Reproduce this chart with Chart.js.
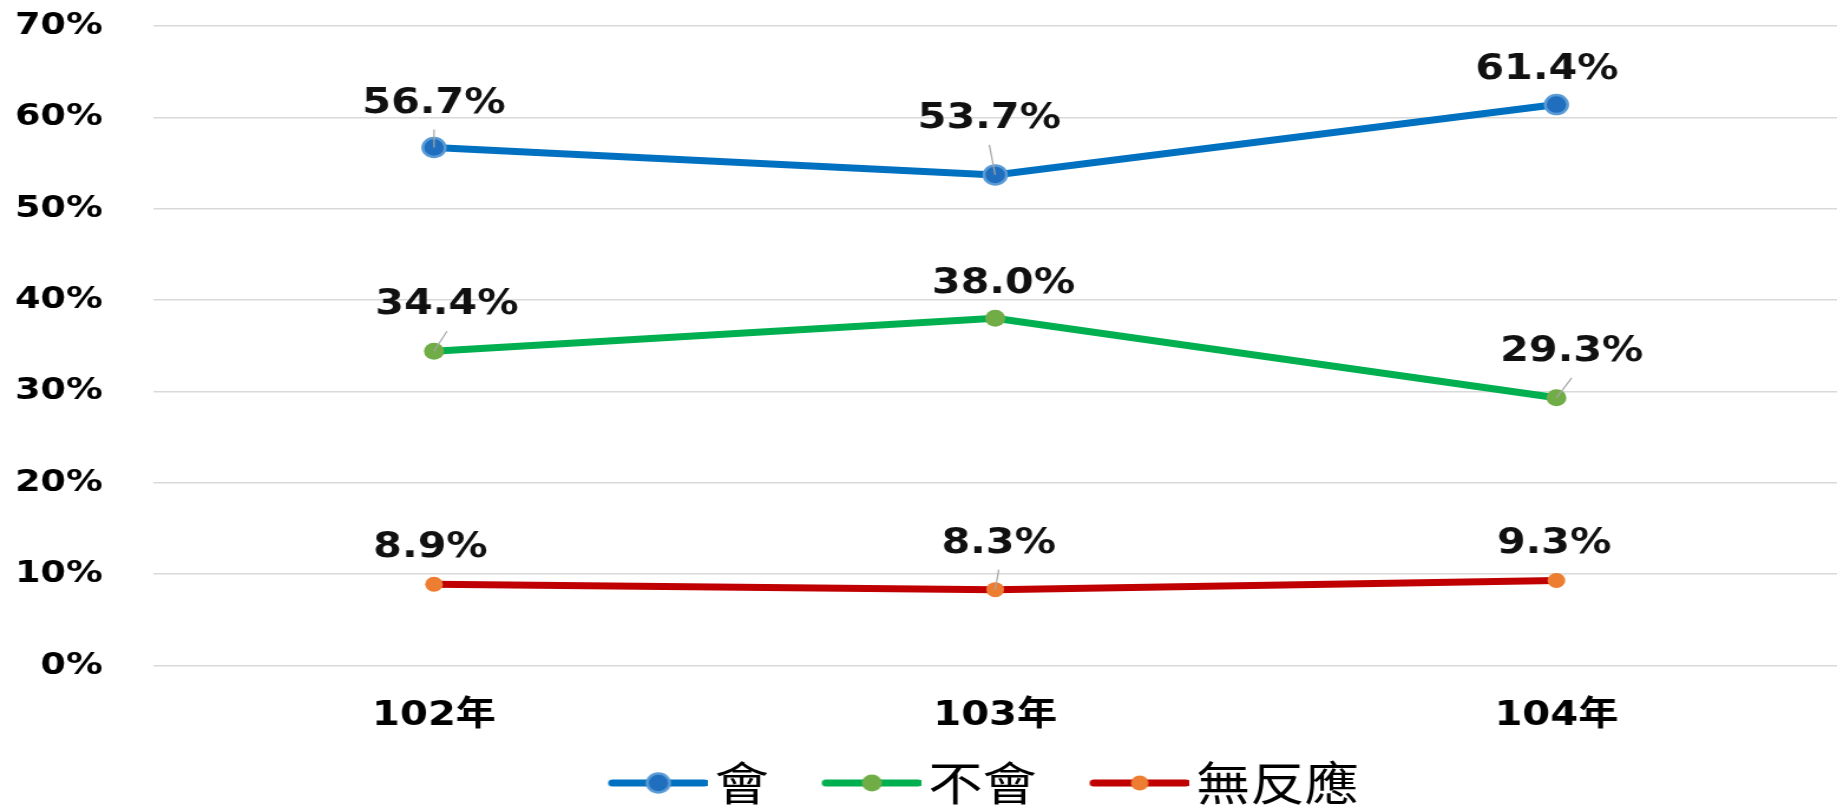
<!DOCTYPE html>
<html>
<head>
<meta charset="utf-8">
<script src="https://cdn.jsdelivr.net/npm/chart.js@4/dist/chart.umd.min.js"></script>
<style>
  html, body { margin: 0; padding: 0; background: #fff; overflow: hidden; }
  canvas { display: block; }
</style>
</head>
<body>
<canvas id="graf"></canvas>
<script>
const years = ['102年', '103年', '104年'];
const seriesNames = ['會', '不會', '無反應'];
const will = [56.7, 53.7, 61.4];
const willNot = [34.4, 38.0, 29.3];
const noResponse = [8.9, 8.3, 9.3];
const yMax = 70;
const yStep = 10;

// the original picture is stretched sideways, so draw narrow and stretch with css
const STRETCH = 1.18;
const W = 1837, H = 805;
const canvas = document.getElementById('graf');
canvas.width = Math.round(W / STRETCH);
canvas.height = H;
canvas.style.width = W + 'px';
canvas.style.height = H + 'px';

const lineColors = ['#0070C0', '#00B050', '#C00000'];
const pointFill = ['#1F6FBE', '#70AD47', '#ED7D31'];
const pointEdge = ['#5B9BD5', '#70AD47', '#ED7D31'];
const pointSize = [9.5, 8.5, 7.5];

// label placement relative to its point [dx, dy, leader line]
const labelPlace = [
  [[0, -44, 1], [-5, -56, 1], [-8, -35, 0]],
  [[11, -46, 1], [7, -34, 0], [13, -46, 1]],
  [[-3, -36, 0], [3, -46, 1], [-2, -37, 0]]
];

const TXT = "'DejaVu Sans', 'Noto Sans CJK TC', sans-serif";

// legend marker: line with a dot, drawn to a small canvas
const LEG_FONT = 46, LEG_LINE = 84, LEG_GAP_TEXT = 6, LEG_SHIFT = 20.5, LEG_PAD = 24.5, LEG_DX = -20;
const legBox = LEG_LINE - LEG_FONT / 2 + LEG_GAP_TEXT + LEG_SHIFT;
const segStart = LEG_SHIFT - legBox / 2;
const segEnd = legBox / 2 + LEG_FONT / 2 - LEG_GAP_TEXT;
const legHalf = Math.max(-segStart, segEnd);

function legendMark(i) {
  const c = document.createElement('canvas');
  c.width = legHalf * 2;
  c.height = 26;
  const g = c.getContext('2d');
  g.strokeStyle = lineColors[i];
  g.lineWidth = 7;
  g.lineCap = 'round';
  g.beginPath();
  g.moveTo(legHalf + segStart + 3, 13);
  g.lineTo(legHalf + segEnd - 3, 13);
  g.stroke();
  g.beginPath();
  g.arc(legHalf + (segStart + segEnd) / 2, 13, pointSize[i], 0, Math.PI * 2);
  g.fillStyle = pointFill[i];
  g.fill();
  if (i === 0) {
    g.lineWidth = 2.5;
    g.strokeStyle = pointEdge[i];
    g.stroke();
  }
  return c;
}

const valueLabels = {
  id: 'valueLabels',
  afterLayout(chart) {
    // nudge the legend row sideways to where the original has it
    chart.legend.left += LEG_DX;
    chart.legend.right += LEG_DX;
  },
  afterDatasetsDraw(chart) {
    const ctx = chart.ctx;
    ctx.save();
    chart.data.datasets.forEach((ds, d) => {
      const meta = chart.getDatasetMeta(d);
      meta.data.forEach((pt, i) => {
        const p = labelPlace[d][i];
        const lx = pt.x + p[0];
        const ly = pt.y + p[1];
        if (p[2]) {
          ctx.strokeStyle = '#A6A6A6';
          ctx.lineWidth = 1.2;
          ctx.beginPath();
          ctx.moveTo(lx, ly + 26);
          ctx.lineTo(pt.x, pt.y);
          ctx.stroke();
        }
        ctx.fillStyle = '#111';
        ctx.font = "bold 35px " + TXT;
        ctx.textAlign = 'center';
        ctx.textBaseline = 'middle';
        ctx.fillText(ds.data[i].toFixed(1) + '%', lx, ly);
      });
    });
    ctx.restore();
  }
};

const data = [will, willNot, noResponse];

new Chart(canvas, {
  type: 'line',
  data: {
    labels: years,
    datasets: data.map((vals, i) => ({
      label: seriesNames[i],
      data: vals,
      borderColor: lineColors[i],
      borderWidth: 7,
      tension: 0,
      fill: false,
      pointRadius: pointSize[i],
      pointBackgroundColor: pointFill[i],
      pointBorderColor: pointEdge[i],
      pointBorderWidth: i === 0 ? 2.5 : 0
    }))
  },
  options: {
    responsive: false,
    animation: false,
    devicePixelRatio: 1,
    layout: { autoPadding: false, padding: { top: 26, left: 0, right: -6, bottom: -11 } },
    scales: {
      x: {
        offset: true,
        grid: { display: false },
        border: { display: false },
        ticks: {
          color: '#000',
          padding: 22,
          font: { family: TXT, size: 34, weight: 'bold' }
        },
        afterFit(s) {
          s.height = 70;
          s.paddingLeft = 0;
          s.paddingRight = 0;
        }
      },
      y: {
        min: 0,
        max: yMax,
        border: { display: false },
        grid: { color: '#D9D9D9', lineWidth: 1.5, drawTicks: false },
        ticks: {
          stepSize: yStep,
          color: '#000',
          padding: 43,
          font: { family: TXT, size: 31, weight: 'bold' },
          callback: v => v + '%'
        },
        afterFit(s) {
          s.width = 130;
          s.paddingTop = 18;
          s.paddingBottom = 18;
        }
      }
    },
    plugins: {
      tooltip: { enabled: false },
      legend: {
        position: 'bottom',
        fullSize: false,
        labels: {
          usePointStyle: true,
          pointStyleWidth: legBox,
          padding: LEG_PAD,
          color: '#000',
          font: { family: "'Noto Sans CJK TC', sans-serif", size: LEG_FONT },
          generateLabels(chart) {
            return chart.data.datasets.map((ds, i) => ({
              text: ds.label,
              pointStyle: legendMark(i),
              datasetIndex: i,
              hidden: false,
              lineWidth: 0,
              fontColor: '#000'
            }));
          }
        }
      }
    }
  },
  plugins: [valueLabels]
});
</script>
</body>
</html>
